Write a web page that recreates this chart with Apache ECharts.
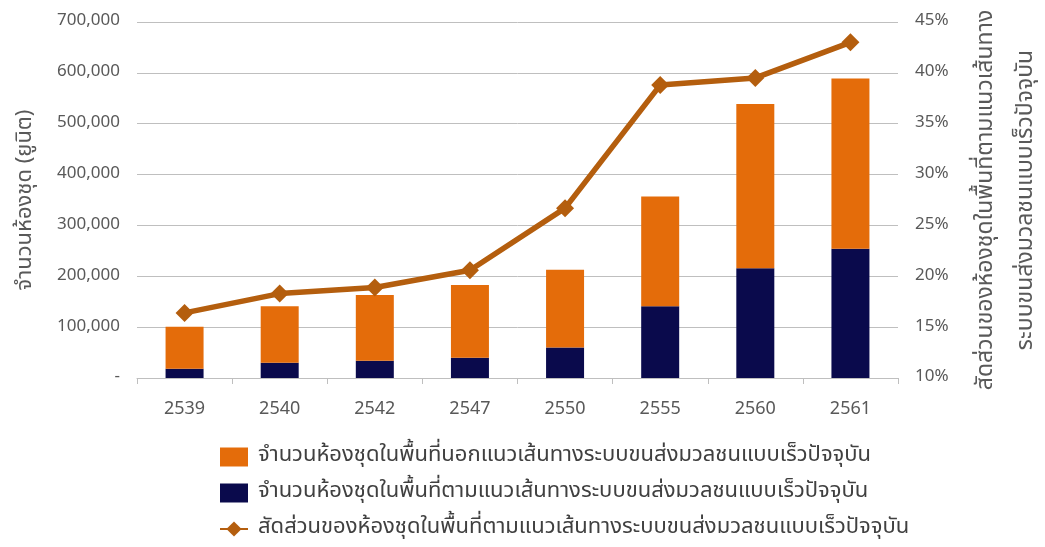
<!DOCTYPE html>
<html>
<head>
<meta charset="utf-8">
<script src="https://cdn.jsdelivr.net/npm/echarts@6/dist/echarts.min.js"></script>
<style>
html,body{margin:0;padding:0;background:#fff;}
#chart{width:1045px;height:547px;}
</style>
</head>
<body>
<div id="chart"></div>
<script>
const years = ['2539','2540','2542','2547','2550','2555','2560','2561'];
const unitsOutside = [83000, 111000, 129000, 143000, 153000, 216000, 323000, 335000];
const unitsAlong = [18000, 30000, 34000, 40000, 60000, 141000, 216000, 254000];
const shareAlong = [16.4, 18.3, 18.9, 20.6, 26.7, 38.8, 39.5, 43.0];

const nameOutside = 'จำนวนห้องชุดในพื้นที่นอกแนวเส้นทางระบบขนส่งมวลชนแบบเร็วปัจจุบัน';
const nameAlong = 'จำนวนห้องชุดในพื้นที่ตามแนวเส้นทางระบบขนส่งมวลชนแบบเร็วปัจจุบัน';
const nameShare = 'สัดส่วนของห้องชุดในพื้นที่ตามแนวเส้นทางระบบขนส่งมวลชนแบบเร็วปัจจุบัน';

const FONT = '"Noto Sans Thai", "Noto Sans", sans-serif';
const chart = echarts.init(document.getElementById('chart'));
chart.setOption({
  animation: false,
  textStyle: {fontFamily: FONT},
  grid: {left: 137, right: 147, top: 22, bottom: 169, containLabel: false, outerBoundsMode: 'none'},
  legend: {
    orient: 'vertical', left: 214, top: 441, itemGap: 14,
    itemWidth: 28, itemHeight: 19,
    textStyle: {fontSize: 22, color: '#404040', fontFamily: FONT, padding: [0, 0, 0, 5]},
    data: [
      {name: nameOutside, icon: 'rect'},
      {name: nameAlong, icon: 'rect'},
      {name: nameShare}
    ]
  },
  xAxis: {
    type: 'category', data: years,
    axisLine: {lineStyle: {color: '#BFBFBF', width: 1}},
    axisTick: {show: true, length: 6, lineStyle: {color: '#BFBFBF'}},
    axisLabel: {fontSize: 18, color: '#595959', margin: 22, fontFamily: '"Liberation Sans Narrow", "Noto Sans", sans-serif'}
  },
  yAxis: [
    {
      type: 'value', min: 0, max: 700000, interval: 100000,
      name: 'จำนวนห้องชุด (ยูนิต)', nameLocation: 'middle', nameGap: 99, nameRotate: 90,
      nameTextStyle: {fontSize: 22, color: '#595959'},
      axisLine: {show: false}, axisTick: {show: false},
      splitLine: {lineStyle: {color: '#BFBFBF', width: 1}},
      axisLabel: {fontSize: 17, color: '#595959', margin: 17,
        formatter: v => v === 0 ? '-' : v.toLocaleString('en-US')}
    },
    {
      type: 'value', min: 10, max: 45, interval: 5, position: 'right',
      name: 'สัดส่วนของห้องชุดในพื้นที่ตามแนวเส้นทาง\nระบบขนส่งมวลชนแบบเร็วปัจจุบัน',
      nameLocation: 'middle', nameGap: 69, nameRotate: 90,
      nameTextStyle: {fontSize: 23, color: '#595959', lineHeight: 40},
      axisLine: {show: false}, axisTick: {show: false}, splitLine: {show: false},
      axisLabel: {fontSize: 17, color: '#595959', margin: 17, formatter: '{value}%'}
    }
  ],
  series: [
    {
      name: nameAlong, type: 'bar', stack: 'units', data: unitsAlong,
      barWidth: 38, itemStyle: {color: '#0A0A4C'}
    },
    {
      name: nameOutside, type: 'bar', stack: 'units', data: unitsOutside,
      barWidth: 38, itemStyle: {color: '#E46C0A'}
    },
    {
      name: nameShare, type: 'line', yAxisIndex: 1, data: shareAlong,
      symbol: 'diamond', symbolSize: 18,
      lineStyle: {color: '#B45E0E', width: 5.5},
      itemStyle: {color: '#B45E0E'}
    }
  ]
});
</script>
</body>
</html>
